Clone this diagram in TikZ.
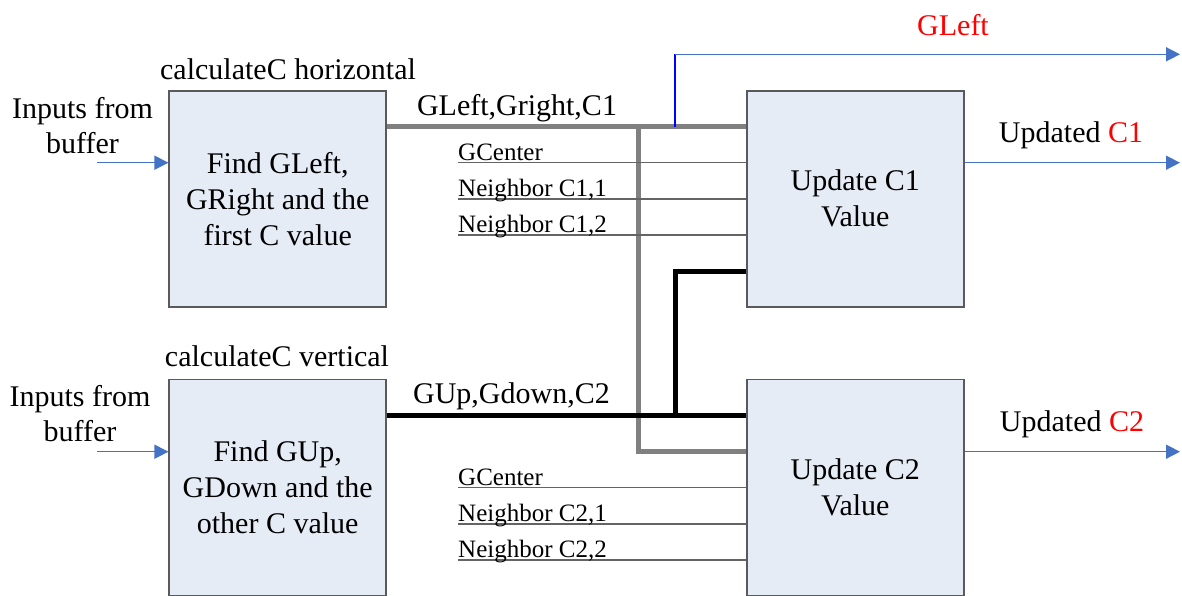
\documentclass[tikz,border=0pt]{standalone}
\usepackage{fontspec}
\setmainfont{LiberationSerif}[Extension=.ttf, UprightFont=*-Regular, BoldFont=*-Bold]
\usetikzlibrary{arrows.meta}
\definecolor{boxfill}{RGB}{230,236,246}
\definecolor{boxline}{RGB}{90,90,90}
\definecolor{arrowblue}{RGB}{68,114,196}
\definecolor{busgray}{RGB}{128,128,128}
\definecolor{wiregray}{RGB}{100,100,100}

\begin{document}
\begin{tikzpicture}[x=1pt,y=-1pt,
  block/.style={draw=boxline, line width=1.5pt, fill=boxfill,
    minimum width=217pt, minimum height=216pt, inner sep=0pt,
    align=center, font=\fontsize{30}{36}\selectfont},
  lbl/.style={inner sep=0pt, align=center, font=\fontsize{30}{35}\selectfont},
  sig/.style={inner sep=0pt, font=\fontsize{25}{30}\selectfont, anchor=base west},
  flow/.style={draw=arrowblue, line width=1.5pt, -{Triangle[length=14pt,width=14pt]}},
  wire/.style={draw=wiregray, line width=1.2pt},
  graybus/.style={draw=busgray, line width=4.5pt, line join=miter},
  blackbus/.style={draw=black, line width=4.5pt, line join=miter},
]
\useasboundingbox (0,0) rectangle (1182,595);
\clip (0,0) rectangle (1182,595);

% processing blocks
\node[block] (calch) at (277.7,198.8) {Find GLeft,\\GRight and the\\first C value};
\node[block] (calcv) at (277.7,487.5) {Find GUp,\\GDown and the\\other C value};
\node[block] (upd1) at (855.3,198.8) {Update C1\\Value};
\node[block] (upd2) at (855.3,487.5) {Update C2\\Value};

% block titles
\node[lbl, anchor=base] (th) at (288,79.3) {calculateC horizontal};
\node[lbl, anchor=base] (tv) at (277,366.7) {calculateC vertical};

% buffer inputs
\node[lbl] (bufh) at (82.5,125.6) {Inputs from\\buffer};
\node[lbl] (bufv) at (80,414) {Inputs from\\buffer};
\coordinate (inh) at (97,162.7);
\coordinate (inv) at (97,451.7);
\draw[flow] (inh) -- (inh -| calch.west);
\draw[flow] (inv) -- (inv -| calcv.west);

% horizontal result bus (gray)
\coordinate (gy) at (0,126.7);
\coordinate (gx) at (638.7,126.7);
\coordinate (gb) at (638.7,451.7);
\draw[graybus] (calch.east |- gy) -- (upd1.west |- gy);
\draw[graybus] (gx) -- (gb) -- (gb -| upd2.west);
\node[lbl, anchor=base] (bush) at (517,115) {GLeft,Gright,C1};

% GLeft tap
\coordinate (tapb) at (675,126.7);
\coordinate (tapt) at (675,54.3);
\coordinate (tape) at (1180,54.3);
\draw[blue, line width=2pt] (tapb) -- (tapt);
\draw[flow] (tapt) -- (tape);
\node[lbl, anchor=base, text=red] (gl) at (953,35) {GLeft};

% vertical result bus (black)
\coordinate (by) at (0,415.7);
\coordinate (bx) at (675.5,415.7);
\coordinate (bt) at (675.5,271.7);
\draw[blackbus] (calcv.east |- by) -- (upd2.west |- by);
\draw[blackbus] (bx) -- (bt) -- (bt -| upd1.west);
\node[lbl, anchor=base] (busv) at (511.5,403.3) {GUp,Gdown,C2};

% neighbour inputs, upper block
\coordinate (w1) at (458,162.7);
\coordinate (w2) at (458,199);
\coordinate (w3) at (458,235);
\draw[wire] (w1) -- (w1 -| upd1.west);
\draw[wire] (w2) -- (w2 -| upd1.west);
\draw[wire] (w3) -- (w3 -| upd1.west);
\node[sig] (s1) at (458,160) {GCenter};
\node[sig] (s2) at (458,196.3) {Neighbor C1,1};
\node[sig] (s3) at (458,232.3) {Neighbor C1,2};

% neighbour inputs, lower block
\coordinate (w4) at (458,487.7);
\coordinate (w5) at (458,524);
\coordinate (w6) at (458,560);
\draw[wire] (w4) -- (w4 -| upd2.west);
\draw[wire] (w5) -- (w5 -| upd2.west);
\draw[wire] (w6) -- (w6 -| upd2.west);
\node[sig] (s4) at (458,485) {GCenter};
\node[sig] (s5) at (458,521.3) {Neighbor C2,1};
\node[sig] (s6) at (458,557.3) {Neighbor C2,2};

% outputs
\coordinate (o1) at (1180,162.7);
\coordinate (o2) at (1180,451.7);
\draw[flow] (o1 -| upd1.east) -- (o1);
\draw[flow] (o2 -| upd2.east) -- (o2);
\node[lbl, anchor=base] (out1) at (1071,142.7) {Updated \textcolor{red}{C1}};
\node[lbl, anchor=base] (out2) at (1072,431.7) {Updated \textcolor{red}{C2}};
\end{tikzpicture}
\end{document}
